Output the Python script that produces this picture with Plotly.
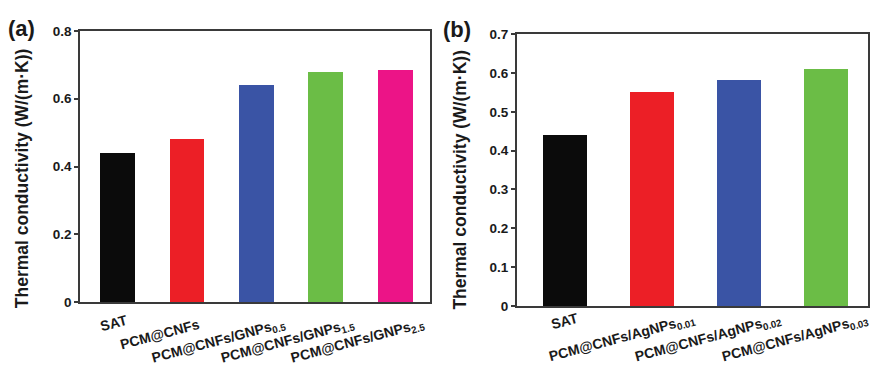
import plotly.graph_objects as go

# ---- data -------------------------------------------------------------
# (a) CNF composites loaded with graphene nanoplatelets
cats_a = [
    "SAT",
    "PCM@CNFs",
    "PCM@CNFs/GNPs<sub>0.5</sub>",
    "PCM@CNFs/GNPs<sub>1.5</sub>",
    "PCM@CNFs/GNPs<sub>2.5</sub>",
]
vals_a = [0.441, 0.482, 0.642, 0.679, 0.685]

# (b) CNF composites loaded with silver nanoparticles
cats_b = [
    "SAT",
    "PCM@CNFs/AgNPs<sub>0.01</sub>",
    "PCM@CNFs/AgNPs<sub>0.02</sub>",
    "PCM@CNFs/AgNPs<sub>0.03</sub>",
]
vals_b = [0.441, 0.550, 0.581, 0.609]

yticks_a = [0, 0.2, 0.4, 0.6, 0.8]
yticktext_a = ["0", "0.2", "0.4", "0.6", "0.8"]
yticks_b = [0, 0.1, 0.2, 0.3, 0.4, 0.5, 0.6, 0.7]
yticktext_b = ["0", "0.1", "0.2", "0.3", "0.4", "0.5", "0.6", "0.7"]

y_title = "Thermal conductivity (W/(m·K))"

# ---- styling ----------------------------------------------------------
colors_a = ["#0b0b0b", "#ec1f26", "#3a54a5", "#6bbd46", "#ec1487"]
colors_b = ["#0b0b0b", "#ec1f26", "#3a54a5", "#6bbd46"]

W, H = 871, 366
FONT = "Liberation Sans, Arial, Helvetica, sans-serif"
LINE = "#3a3a3a"
INK = "#1a1a1a"

# label nudges (pixels) for the slanted category names
label_dx_a = [-4, -26.5, -37.5, -37.5, -37]
label_dy_a = [20.5, 31.5, 39, 39, 39]
label_dx_b = [0, -29.5, -30, -30]
label_dy_b = [15.5, 32.5, 32.5, 32.5]


def px_x(p):
    return p / W


def px_y(p):
    return 1 - p / H


fig = go.Figure()
fig.add_trace(go.Bar(x=list(range(len(vals_a))), y=vals_a, width=0.5,
                     marker=dict(color=colors_a, line=dict(width=0)),
                     xaxis="x", yaxis="y"))
fig.add_trace(go.Bar(x=list(range(len(vals_b))), y=vals_b, width=0.5,
                     marker=dict(color=colors_b, line=dict(width=0)),
                     xaxis="x2", yaxis="y2"))

common_x = dict(showline=True, mirror=True, linecolor=LINE, linewidth=1.5,
                showgrid=False, zeroline=False, ticks="", showticklabels=False,
                fixedrange=True)
common_y = dict(showline=True, mirror=True, linecolor=LINE, linewidth=1.5,
                showgrid=False, zeroline=False, ticks="outside", ticklen=4,
                tickwidth=1.5, tickcolor=LINE,
                tickfont=dict(family=FONT, size=13.5, color=INK, weight="bold"))

fig.update_layout(
    width=W, height=H,
    margin=dict(l=0, r=0, t=0, b=0),
    paper_bgcolor="white", plot_bgcolor="white",
    showlegend=False,
    bargap=0,
    xaxis=dict(domain=[px_x(80), px_x(430)], range=[-0.54, 4.5], anchor="y", **common_x),
    yaxis=dict(domain=[px_y(307.7), px_y(25)], range=[0, 0.8], anchor="x",
               tickvals=yticks_a, ticktext=yticktext_a, **common_y),
    xaxis2=dict(domain=[px_x(516.7), px_x(867.7)], range=[-0.55, 3.48], anchor="y2", **common_x),
    yaxis2=dict(domain=[px_y(311.7), px_y(28.3)], range=[0, 0.7], anchor="x2",
                tickvals=yticks_b, ticktext=yticktext_b, **common_y),
)

ann = []
label_font = dict(family=FONT, size=14, color=INK, weight="bold")
for i, name in enumerate(cats_a):
    ann.append(dict(x=i, y=0, xref="x", yref="y", text=name, showarrow=False,
                    textangle=-15, xanchor="center", yanchor="middle",
                    xshift=label_dx_a[i], yshift=-label_dy_a[i], font=label_font))
for i, name in enumerate(cats_b):
    ann.append(dict(x=i, y=0, xref="x2", yref="y2", text=name, showarrow=False,
                    textangle=-15, xanchor="center", yanchor="middle",
                    xshift=label_dx_b[i], yshift=-label_dy_b[i], font=label_font))

title_font = dict(family=FONT, size=17.5, color=INK, weight="bold")
ann.append(dict(x=px_x(22), y=px_y(178.5), xref="paper", yref="paper", text=y_title,
                textangle=-90, showarrow=False, xanchor="center", yanchor="middle",
                font=title_font))
ann.append(dict(x=px_x(460), y=px_y(180), xref="paper", yref="paper", text=y_title,
                textangle=-90, showarrow=False, xanchor="center", yanchor="middle",
                font=title_font))

panel_font = dict(family=FONT, size=22, color=INK, weight="bold")
ann.append(dict(x=px_x(21), y=px_y(22.5), xref="paper", yref="paper", text="(a)",
                showarrow=False, xanchor="center", yanchor="middle", font=panel_font))
ann.append(dict(x=px_x(457.5), y=px_y(23), xref="paper", yref="paper", text="(b)",
                showarrow=False, xanchor="center", yanchor="middle", font=panel_font))

fig.update_layout(annotations=ann)
fig.write_html("out.html")
